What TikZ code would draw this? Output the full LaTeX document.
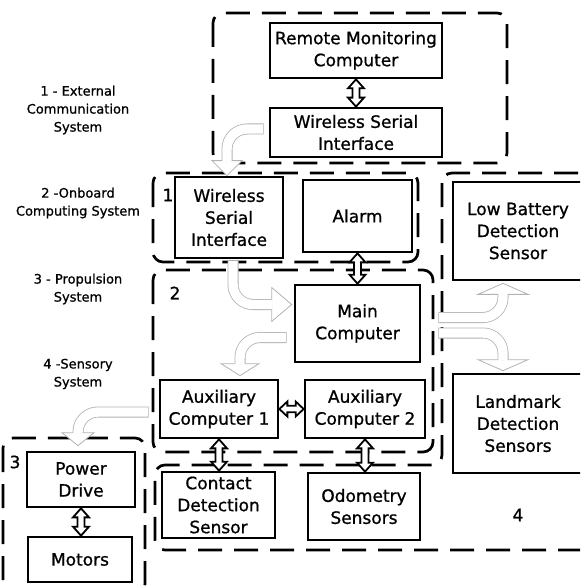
\documentclass[tikz,border=0pt]{standalone}
\usepackage{fontspec}
\setmainfont{DejaVu Sans}[FakeBold=0.9]
\usetikzlibrary{calc}
\definecolor{arrgray}{gray}{0.7}
\newcommand\bxfont{\fontsize{17}{22}\selectfont}
\newcommand\lbfont{\fontsize{13}{18}\selectfont}
% vertical hollow double arrow between #1 (above) and #2 (below)
\newcommand\vdarr[2]{%
 \path[blkarr] let \p1=(#1.south), \p2=(#2.north) in
 (\x1,\y1) -- (\x1+8pt,\y1-9pt) -- (\x1+3.5pt,\y1-9pt) -- (\x1+3.5pt,\y2+9pt)
 -- (\x1+8pt,\y2+9pt) -- (\x1,\y2) -- (\x1-8pt,\y2+9pt) -- (\x1-3.5pt,\y2+9pt)
 -- (\x1-3.5pt,\y1-9pt) -- (\x1-8pt,\y1-9pt) -- cycle;}
% horizontal hollow double arrow between #1 (left) and #2 (right)
\newcommand\hdarr[2]{%
 \path[blkarr] let \p1=(#1.east), \p2=(#2.west) in
 (\x1,\y1) -- (\x1+8pt,\y1+7.5pt) -- (\x1+8pt,\y1+3.2pt) -- (\x2-8pt,\y1+3.2pt)
 -- (\x2-8pt,\y1+7.5pt) -- (\x2,\y1) -- (\x2-8pt,\y1-7.5pt) -- (\x2-8pt,\y1-3.2pt)
 -- (\x1+8pt,\y1-3.2pt) -- (\x1+8pt,\y1-7.5pt) -- cycle;}
% light grey outlined curved arrow: #1 band path, #2 head path
\newcommand\grarr[2]{%
 \draw[draw=arrgray, line width=11pt, rounded corners=20pt] #1;
 \filldraw[draw=arrgray, fill=white, line width=0.8pt, line join=miter] #2;
 \draw[white, line width=9.4pt, rounded corners=20pt, shorten <=0.8pt] #1;}
\begin{document}
\begin{tikzpicture}[x=1pt,y=-1pt,
  sbox/.style={draw, line width=2.7pt, align=center, font=\bxfont, inner sep=0pt, fill=white},
  grp/.style={draw, line width=2.7pt, dash pattern=on 24pt off 12pt, rounded corners=10pt},
  lbl/.style={align=center, font=\lbfont, inner sep=0pt},
  num/.style={font=\bxfont, inner sep=0pt},
  blkarr/.style={draw=black, fill=white, line width=1.8pt, line join=miter}]
\useasboundingbox (0,0) rectangle (580,588);
\clip (0,0) rectangle (580,588);

% groups
\draw[grp] (213,13) rectangle (507,163);
\draw[grp] (153,173) rectangle (418,262);
\draw[grp] (153,270) rectangle (433,452);
\draw[grp] (442,173) -- (442,465) -- (155,465) -- (155,550) -- (600,550) -- (600,173) -- cycle;
\draw[grp] (3,438) rectangle (145,594);

% left labels
\node[lbl] (l1) at (78,110) {1 - External\\Communication\\System};
\node[lbl] (l2) at (78,203) {2 -Onboard\\Computing System};
\node[lbl] (l3) at (78,289) {3 - Propulsion\\System};
\node[lbl] (l4) at (78,374) {4 -Sensory\\System};

% group numbers
\node[num] (n1) at (168,195) {1};
\node[num] (n2) at (175,293) {2};
\node[num] (n3) at (15,462) {3};
\node[num] (n4) at (518,515) {4};

% boxes
\node[sbox, minimum width=172, minimum height=55] (rmc) at (356,50.5) {Remote Monitoring\\Computer};
\node[sbox, minimum width=172, minimum height=49] (wsi1) at (356,132.5) {Wireless Serial\\Interface};
\node[sbox, minimum width=108, minimum height=81] (wsi2) at (229,217.5) {Wireless\\Serial\\Interface};
\node[sbox, minimum width=109, minimum height=72] (alarm) at (357.5,216) {Alarm};
\node[sbox, minimum width=130, minimum height=98] (lowbat) at (518,231) {Low Battery\\Detection\\Sensor};
\node[sbox, minimum width=125, minimum height=77] (main) at (357.5,323.5) {Main\\Computer};
\node[sbox, minimum width=130, minimum height=99] (land) at (518,423.5) {Landmark\\Detection\\Sensors};
\node[sbox, minimum width=118, minimum height=58] (aux1) at (219,409) {Auxiliary\\Computer 1};
\node[sbox, minimum width=120, minimum height=58] (aux2) at (365,409) {Auxiliary\\Computer 2};
\node[sbox, minimum width=113, minimum height=66] (contact) at (218.5,505) {Contact\\Detection\\Sensor};
\node[sbox, minimum width=112, minimum height=67] (odo) at (364,506.5) {Odometry\\Sensors};
\node[sbox, minimum width=108, minimum height=55] (power) at (81,479.5) {Power\\Drive};
\node[sbox, minimum width=104, minimum height=45] (motors) at (80,559.5) {Motors};

% grey curved arrows
\coordinate (aS) at ($(wsi1.west)+(-5,-3.5)$);
\coordinate (aT) at ($(wsi2.north)+(-2,0)$);
\grarr{(aS) -- (aT |- aS) -- ($(aT)+(0,-14)$)}{(aT) -- ($(aT)+(-15,-15)$) -- ($(aT)+(15,-15)$) -- cycle}

\coordinate (bS) at ($(wsi2.south)+(4,1)$);
\coordinate (bT) at ($(main.west)+(-2,-19)$);
\grarr{(bS) -- (bS |- bT) -- ($(bT)+(-19,0)$)}{(bT) -- ($(bT)+(-20,-17)$) -- ($(bT)+(-20,17)$) -- cycle}

\coordinate (cS) at ($(main.west)+(-7,14)$);
\coordinate (cT) at ($(aux1.north)+(21,-3)$);
\grarr{(cS) -- (cT |- cS) -- ($(cT)+(0,-11)$)}{(cT) -- ($(cT)+(-19,-12)$) -- ($(cT)+(19,-12)$) -- cycle}

\coordinate (dS) at ($(main.east)+(17,-6)$);
\coordinate (dT) at ($(lowbat.south)+(-15,2)$);
\grarr{(dS) -- (dT |- dS) -- ($(dT)+(0,10)$)}{(dT) -- ($(dT)+(-25,11)$) -- ($(dT)+(25,11)$) -- cycle}

\coordinate (eS) at ($(main.east)+(17,9.5)$);
\coordinate (eT) at ($(land.north)+(-15,-2)$);
\grarr{(eS) -- (eT |- eS) -- ($(eT)+(0,-10)$)}{(eT) -- ($(eT)+(-25,-11)$) -- ($(eT)+(25,-11)$) -- cycle}

\coordinate (fS) at ($(aux1.west)+(-10,3)$);
\coordinate (fT) at ($(power.north)+(-3,-5)$);
\grarr{(fS) -- (fT |- fS) -- ($(fT)+(0,-12)$)}{(fT) -- ($(fT)+(-16,-13)$) -- ($(fT)+(16,-13)$) -- cycle}

% black double arrows
\vdarr{rmc}{wsi1}
\vdarr{alarm}{main}
\hdarr{aux1}{aux2}
\vdarr{aux1}{contact}
\vdarr{aux2}{odo}
\vdarr{power}{motors}
\end{tikzpicture}
\end{document}
